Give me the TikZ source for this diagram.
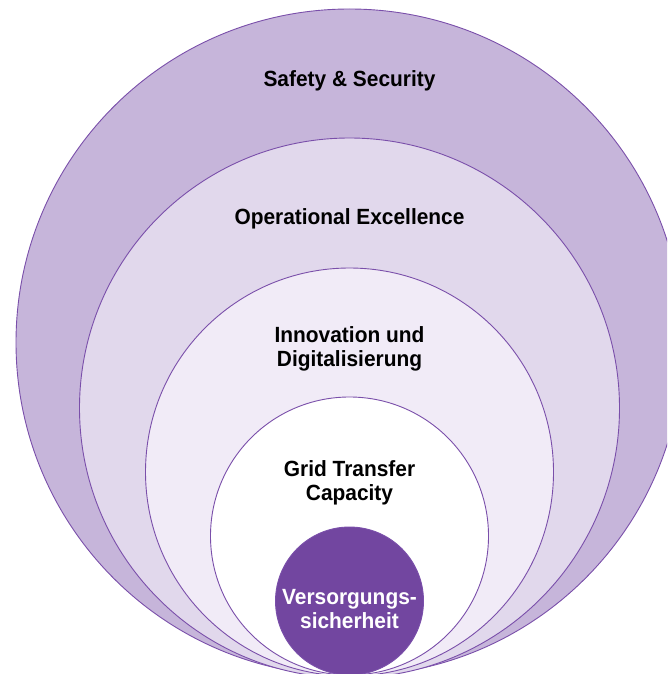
\documentclass[tikz,border=0pt]{standalone}
\usepackage{fontspec}
\setmainfont{Liberation Sans}[FakeStretch=0.95]
\definecolor{ringA}{HTML}{C6B5DA}
\definecolor{ringB}{HTML}{E1D8EC}
\definecolor{ringC}{HTML}{F1EBF7}
\definecolor{coreP}{HTML}{7246A0}
\definecolor{lineP}{HTML}{7A4FAA}
\tikzset{
  ring/.style={draw=lineP, line width=0.9pt},
  lbl/.style={font=\fontsize{22}{24}\selectfont\bfseries, align=center, text=black, inner sep=0pt},
  lblw/.style={lbl, text=white}
}
\begin{document}
\begin{tikzpicture}[x=1pt,y=-1pt]
\useasboundingbox (0,0) rectangle (667,674);
\clip (0,0) rectangle (667,674);
\draw[ring, fill=ringA] (349.5,342.5) circle[radius=333.5];
\draw[ring, fill=ringB] (349.5,408) circle[radius=270];
\draw[ring, fill=ringC] (349.5,472) circle[radius=204];
\draw[ring, fill=white] (349.5,536) circle[radius=139];
\draw[ring, fill=coreP] (349.5,601) circle[radius=74];
\node[lbl] (safety) at (349.5,81) {Safety \& Security};
\node[lbl] (opex) at (349.5,218.5) {Operational Excellence};
\node[lbl] (innov) at (349.5,348.5) {Innovation und\\Digitalisierung};
\node[lbl] (grid) at (349.5,482.5) {Grid Transfer\\Capacity};
\node[lblw] (vs) at (349.5,609) {Versorgungs-\\sicherheit};
\end{tikzpicture}
\end{document}
